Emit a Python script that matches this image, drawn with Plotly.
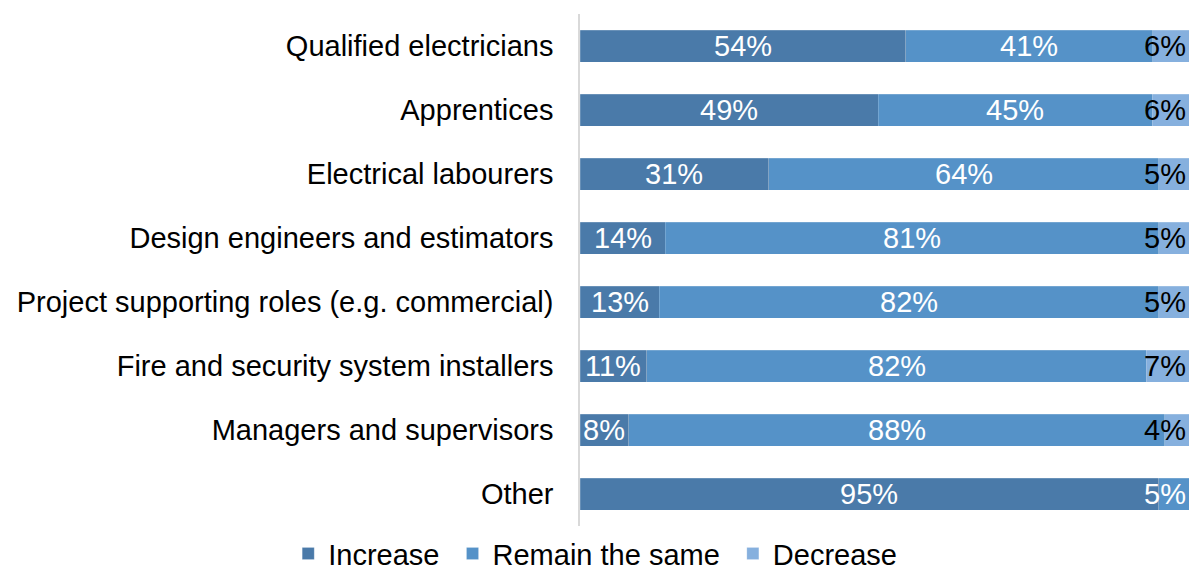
import plotly.graph_objects as go

# Survey rows, top to bottom
categories = [
    "Qualified electricians",
    "Apprentices",
    "Electrical labourers",
    "Design engineers and estimators",
    "Project supporting roles (e.g. commercial)",
    "Fire and security system installers",
    "Managers and supervisors",
    "Other",
]
increase = [54, 49, 31, 14, 13, 11, 8, 95]
remain_same = [41, 45, 64, 81, 82, 82, 88, 5]
decrease = [6, 6, 5, 5, 5, 7, 4, 0]

# (legend name, values, fill colour, label colour); a trailing no-break space
# widens the legend entry gap
series = [
    ("Increase\u00a0", increase, "#4a7aa9", "white"),
    ("Remain the same\u00a0", remain_same, "#5592c8", "white"),
    ("Decrease", decrease, "#86b0de", "black"),
]

FONT = "Liberation Sans, Arial, sans-serif"
SIZE = 29

fig = go.Figure()
for name, vals, color, _ in series:
    fig.add_trace(go.Bar(
        name=name,
        y=categories,
        x=vals,
        orientation="h",
        marker=dict(color=color, line=dict(color="rgba(255,255,255,0.35)", width=0.5)),
        hoverinfo="skip",
    ))

# Value labels: centred in each segment; small segments at the right end
# are pulled inside the plotting area and right-aligned.
annotations = []
for i, cat in enumerate(categories):
    row = [s[1][i] for s in series]
    total = sum(row)
    last_nonzero = max(k for k, v in enumerate(row) if v > 0)
    cum = 0
    for k, (name, vals, color, tcolor) in enumerate(series):
        v = vals[i]
        if v <= 0:
            continue
        start = 100 * cum / total
        width = 100 * v / total
        cum += v
        if k == last_nonzero and v < 10:
            annotations.append(dict(
                x=100, y=cat, xref="x", yref="y", text=f"{v}%",
                xanchor="right", yanchor="middle", xshift=-1, showarrow=False,
                font=dict(family=FONT, size=SIZE, color=tcolor),
            ))
        else:
            annotations.append(dict(
                x=start + width / 2, y=cat, xref="x", yref="y", text=f"{v}%",
                xanchor="center", yanchor="middle", showarrow=False,
                font=dict(family=FONT, size=SIZE, color=tcolor),
            ))

fig.update_layout(
    barmode="stack",
    barnorm="percent",
    bargap=0.5,
    width=1189,
    height=570,
    margin=dict(l=580, r=0, t=14, b=44, autoexpand=False),
    paper_bgcolor="white",
    plot_bgcolor="white",
    font=dict(family=FONT, size=SIZE, color="black"),
    annotations=annotations,
    showlegend=True,
    legend=dict(
        orientation="h",
        x=0.025,
        xanchor="center",
        y=-0.054,
        yanchor="middle",
        font=dict(family=FONT, size=SIZE, color="black"),
        traceorder="normal",
        entrywidthmode="pixels",
        entrywidth=0,
        borderwidth=0,
    ),
)
fig.update_xaxes(range=[0, 100], showticklabels=False, showgrid=False, zeroline=False,
                 showline=False, fixedrange=True)
fig.update_yaxes(autorange="reversed", showgrid=False, showline=True, linecolor="#d9d9d9",
                 linewidth=1.5, ticks="", ticklabelstandoff=19,
                 tickfont=dict(family=FONT, size=SIZE, color="black"))

fig.write_html("out.html")
